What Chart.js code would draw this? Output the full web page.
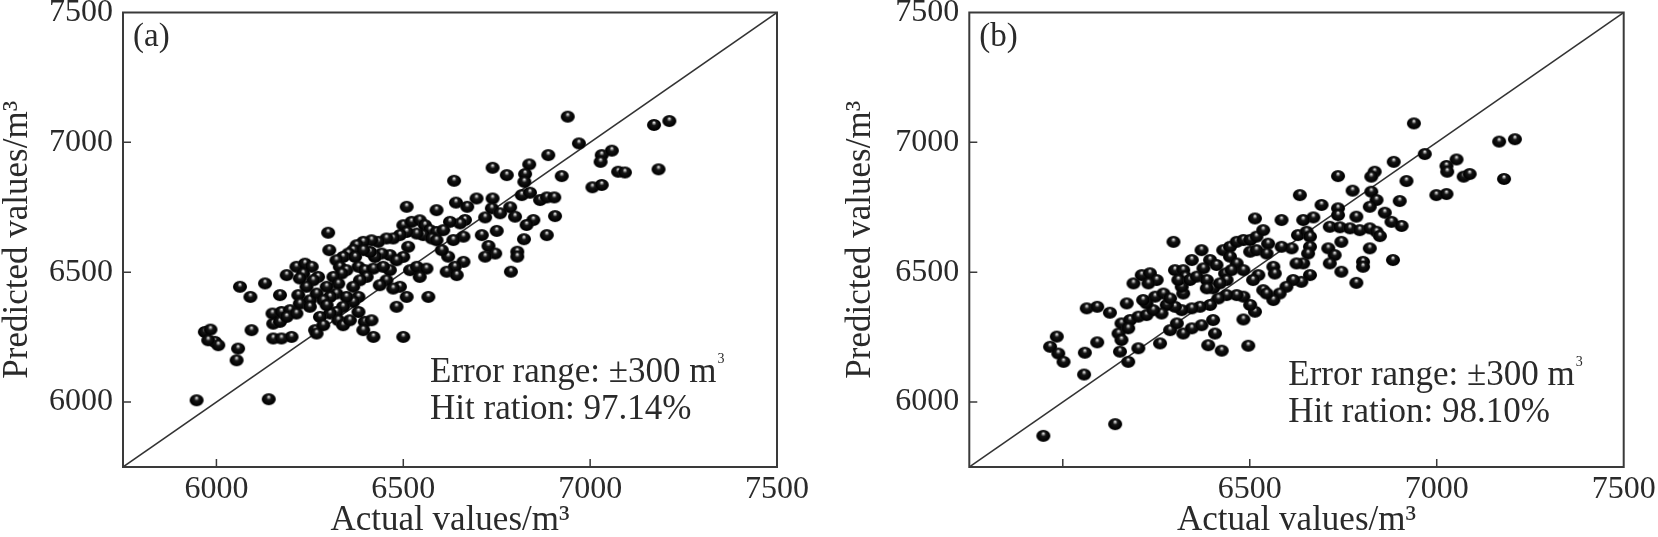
<!DOCTYPE html>
<html><head><meta charset="utf-8">
<script src="https://cdn.jsdelivr.net/npm/chart.js@4.4.1/dist/chart.umd.min.js"></script>
<style>
html,body{margin:0;padding:0;background:#fff;}
#wrap{position:relative;width:1658px;height:537px;overflow:hidden;background:#fff;}
canvas{position:absolute;top:0;}
</style></head><body>
<div id="wrap">
<canvas id="ca" width="829" height="537" style="left:0;width:829px;height:537px"></canvas>
<canvas id="cb" width="829" height="537" style="left:829px;width:829px;height:537px"></canvas>
</div>
<script>
// ---------- data ----------
const axisMin = 5750, axisMax = 7500;
const tickValues = [6000, 6500, 7000, 7500];
const yTickLabels = ["6000", "6500", "7000", "7500"];
const xTickLabelsA = ["6000", "6500", "7000", "7500"];
const xTickLabelsB = ["", "6500", "7000", "7500"];
const xTitle = "Actual values/m\u00B3";
const yTitle = "Predicted values/m\u00B3";
const panelLabels = ["(a)", "(b)"];
const errorText = "Error range: \u00B1300 m";
const hitTextA = "Hit ration: 97.14%";
const hitTextB = "Hit ration: 98.10%";

const actualA = [6509,6589,6299,6302,6500,6522,6544,6558,6571,6589,6553,6536,6509,6491,6473,6455,6433,6415,6393,6375,
6366,6353,6339,6321,6330,6348,6335,6313,6326,6321,6304,6295,6272,6259,6241,6219,6250,6268,6286,6188,
6214,6237,6255,6232,6223,6063,6130,6091,6170,6464,6442,6424,6411,6393,6371,6380,6397,6420,6402,6384,
6366,6380,6366,6348,6339,6321,6304,6295,6326,6339,6357,6380,6397,6415,6393,6420,6500,6482,6509,6491,
6518,6536,6562,6544,6567,6464,6455,6473,6437,6446,6500,6482,6513,6576,6589,6152,6170,6150,6174,6197,
6188,6214,6223,6250,6277,6264,6268,6286,6152,6174,6201,6094,5969,5984,5996,6005,5978,6058,6054,5947,
6140,
6940,7171,7212,7183,6970,7031,7058,7028,7075,7093,7006,7031,6888,6924,6837,6826,6824,6739,6777,6636,
6817,6839,6866,6884,6904,6696,6739,6641,6671,6737,6786,6799,6759,6719,6906,6848,6830,6884,6823,6750,
6710,6728,6746,6719,6805,6805,6788,6661,6638,6616,6643,6620,6665,6652,6625,6661,6634,6607,6603];
const predictedA = [6752,6739,6652,6585,6681,6694,6700,6681,6662,6655,6643,6649,6655,6643,6630,6630,6617,6623,6617,6604,
6585,6572,6559,6546,6521,6508,6495,6482,6456,6418,6405,6444,6482,6469,6444,6412,6392,6418,6392,6489,
6521,6533,6521,6495,6476,6444,6457,6405,6412,6566,6572,6559,6578,6585,6559,6521,6508,6514,6482,6469,
6444,6405,6386,6405,6367,6347,6341,6373,6315,6296,6315,6347,6309,6315,6277,6251,6251,6367,6405,6444,
6508,6521,6514,6482,6405,6508,6469,6437,6450,6521,6559,6546,6598,6630,6623,6302,6309,6341,6347,6354,
6328,6341,6379,6367,6328,6277,6264,6296,6245,6245,6251,6277,6270,6279,6232,6219,6238,6206,6161,6007,
6011,
7099,7067,7082,6896,6996,6951,6968,6925,6887,6884,6827,6836,6951,6870,6915,6878,6848,6902,6874,6852,
6797,6806,6778,6788,6788,6784,6784,6768,6752,6746,6750,6714,6727,6711,6716,6701,6682,6643,6627,6659,
6643,6601,6572,6560,6579,6560,6502,6540,6521,6502,6489,6560,6701,6688,6694,6637,6624,6662,6585];

const actualB = [6140,6057,6059,6092,5984,5966,5988,6002,6064,6092,6126,6171,6175,6153,6202,6149,6157,6157,6180,6202,
6224,6175,6260,6287,6305,6322,6345,6371,6402,6407,6389,6425,6496,6483,6514,6501,6483,6465,6438,6416,
6394,6367,6345,6318,6300,6278,6264,6242,6224,6247,6269,6287,6215,6322,6318,6189,6211,6233,6251,6229,
6300,6322,6345,6327,6309,6340,6371,6394,6411,6376,6358,6385,6402,6385,6429,6447,6465,6483,6501,6518,
6536,6514,6447,6465,6483,6501,6518,6523,6509,6434,6451,6438,6420,6296,6536,5948,
6939,7167,7209,7180,6968,7026,7053,7028,7072,7088,6999,7026,6885,6834,6825,6736,6919,6775,6825,6839,
6821,6901,6634,6692,6736,6736,6785,6861,6879,6906,6670,6643,6585,6714,6741,6768,6794,6821,6839,6848,
6629,6652,6661,6661,6656,6745,6710,6727,6714,6821,6803,6803,6745,6883,6785,6661,6638,6616,6598,6580,
6563,6545,6643,6625,6612,6585,6563,6567,6549,6545];
const predictedB = [5915,6106,6190,6230,6252,6213,6187,6155,6361,6367,6344,6380,6155,6194,6207,6264,6239,6303,6316,6329,
6335,6284,6226,6277,6303,6264,6284,6296,6316,6264,6219,6198,6217,6318,6348,6374,6406,6412,6412,6399,
6374,6367,6361,6354,6367,6374,6341,6354,6380,6406,6418,6399,6393,6418,6444,6457,6489,6496,6470,6457,
6508,6508,6547,6483,6470,6470,6585,6547,6528,6515,6483,6470,6438,6438,6585,6598,6617,6624,6624,6637,
6662,6707,6560,6534,6508,6579,6585,6489,6470,6495,6508,6470,6457,6617,6431,5870,
7073,7003,7012,6859,6955,6909,6934,6887,6868,6878,6797,6801,6925,6887,6868,6870,6851,6814,6810,6778,
6752,6774,6797,6759,6746,6720,6714,6729,6694,6678,6711,6701,6701,6675,6673,6669,6662,6669,6656,6639,
6643,6656,6637,6598,6572,6617,6592,6566,6534,6592,6540,6521,6502,6547,6459,6489,6463,6470,6444,6418,
6393,6418,6534,6534,6592,6598,6521,6495,6610,6572];

const diagonal = [axisMin, axisMax];

// ---------- styling ----------
const SERIF = "'Liberation Serif', 'Times New Roman', serif";
const TEXT = '#2a2a2a';
const FRAME = '#3a3a3a';

function makeBall() {
  const c = document.createElement('canvas');
  const w = 16, h = 14;
  c.width = w; c.height = h;
  const g = c.getContext('2d');
  const cx = w / 2, cy = h / 2;
  const grad = g.createRadialGradient(cx, cy - 2.6, 0.2, cx, cy, 7.2);
  grad.addColorStop(0, '#ffffff');
  grad.addColorStop(0.12, '#9a9a9a');
  grad.addColorStop(0.32, '#161616');
  grad.addColorStop(0.8, '#000000');
  grad.addColorStop(1, '#262626');
  g.fillStyle = grad;
  g.beginPath();
  g.ellipse(cx, cy, 7.1, 6.1, 0, 0, Math.PI * 2);
  g.fill();
  return c;
}
const ball = makeBall();

function toPoints(xs, ys) { return xs.map((x, i) => ({ x: x, y: ys[i] })); }

const framePlugin = {
  id: 'frameTicks',
  afterDatasetsDraw(chart, args, o) {
    const ctx = chart.ctx, a = chart.chartArea;
    const xs = chart.scales.x, ys = chart.scales.y;
    ctx.save();
    ctx.strokeStyle = FRAME;
    ctx.lineWidth = 2;
    ctx.strokeRect(a.left, a.top, a.right - a.left, a.bottom - a.top);
    ctx.lineWidth = 1.5;
    ctx.beginPath();
    tickValues.forEach(v => {
      const px = xs.getPixelForValue(v);
      if (px < a.right - 2) { ctx.moveTo(px, a.bottom); ctx.lineTo(px, a.bottom - 8); }
      const py = ys.getPixelForValue(v);
      if (py > a.top + 2) { ctx.moveTo(a.left, py); ctx.lineTo(a.left + 8, py); }
    });
    ctx.stroke();
    // texts
    ctx.fillStyle = TEXT;
    ctx.textAlign = 'left';
    ctx.textBaseline = 'alphabetic';
    ctx.font = '33px ' + SERIF;
    ctx.fillText(o.label, a.left + 10, 46);
    ctx.font = '35px ' + SERIF;
    const nx = a.left + o.noteDx;
    ctx.fillText(errorText, nx, o.line1);
    const w = ctx.measureText(errorText).width;
    ctx.font = '14px ' + SERIF;
    ctx.fillText('3', nx + w + 1, o.line1 - 19);
    ctx.font = '35px ' + SERIF;
    ctx.fillText(o.hit, nx, o.line2);
    ctx.restore();
  }
};

function makeChart(id, xs, ys, xLabels, yAxisWidth, padRight, titlePad, note) {
  return new Chart(document.getElementById(id), {
    type: 'scatter',
    data: {
      datasets: [
        {
          type: 'scatter',
          data: toPoints(xs, ys),
          pointStyle: ball,
          pointRadius: 7,
          order: 1
        },
        {
          type: 'line',
          data: toPoints(diagonal, diagonal),
          borderColor: '#333',
          borderWidth: 1.5,
          pointRadius: 0,
          fill: false,
          order: 2
        }
      ]
    },
    options: {
      responsive: false,
      animation: false,
      events: [],
      layout: { padding: { left: 0, top: 12.5, right: padRight, bottom: 0 } },
      plugins: { legend: { display: false }, tooltip: { enabled: false }, frameTicks: note },
      scales: {
        x: {
          type: 'linear',
          min: axisMin, max: axisMax,
          grid: { display: false, drawTicks: false },
          border: { display: false },
          afterBuildTicks: s => { s.ticks = tickValues.map(v => ({ value: v })); },
          afterFit: s => { s.height = 70; s.paddingLeft = 0; s.paddingRight = 0; },
          ticks: {
            padding: 3,
            color: TEXT,
            font: { family: SERIF, size: 32, lineHeight: 1.2 },
            maxRotation: 0, autoSkip: false,
            callback: (v) => { const i = tickValues.indexOf(v); return i >= 0 ? xLabels[i] : ''; }
          },
          title: {
            display: true, text: xTitle, color: TEXT,
            font: { family: SERIF, size: 35, lineHeight: 0.9 },
            padding: { top: 0, bottom: 0 }
          }
        },
        y: {
          type: 'linear',
          min: axisMin, max: axisMax,
          grid: { display: false, drawTicks: false },
          border: { display: false },
          afterBuildTicks: s => { s.ticks = tickValues.map(v => ({ value: v })); },
          afterFit: s => { s.width = yAxisWidth; s.paddingTop = 0; s.paddingBottom = 0; },
          ticks: {
            padding: 10,
            color: TEXT,
            font: { family: SERIF, size: 32, lineHeight: 1.2 },
            autoSkip: false,
            callback: (v) => { const i = tickValues.indexOf(v); return i >= 0 ? yTickLabels[i] : ''; }
          },
          title: {
            display: true, text: yTitle, color: TEXT,
            font: { family: SERIF, size: 35, lineHeight: 1.0 },
            padding: { top: titlePad, bottom: 0 }
          }
        }
      }
    },
    plugins: [framePlugin]
  });
}

makeChart('ca', actualA, predictedA, xTickLabelsA, 123, 52, 0.7,
  { label: panelLabels[0], noteDx: 307, line1: 382, line2: 419, hit: hitTextA });
makeChart('cb', actualB, predictedB, xTickLabelsB, 140.3, 34.3, 14.7,
  { label: panelLabels[1], noteDx: 319, line1: 385, line2: 422, hit: hitTextB });
</script>
</body></html>
